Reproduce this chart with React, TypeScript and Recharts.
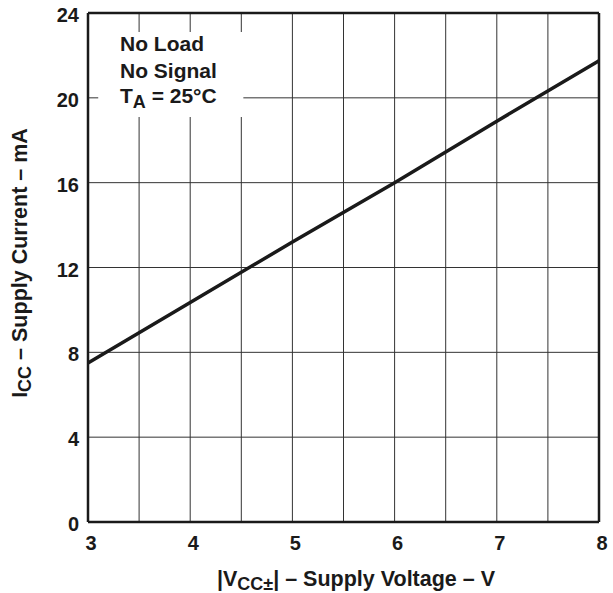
import { LineChart, Line, XAxis, YAxis, CartesianGrid, ReferenceArea, ReferenceLine, Customized } from "recharts"

// supply current vs. supply voltage
const supplyVoltage = [3, 4, 5, 6, 7, 8]
const supplyCurrent = [7.5, 10.35, 13.2, 16.0, 18.9, 21.75]

const voltageTicks = [3, 3.5, 4, 4.5, 5, 5.5, 6, 6.5, 7, 7.5, 8]
const currentTicks = [0, 4, 8, 12, 16, 20, 24]

const conditions = ["No Load", "No Signal"]

const FONT = "'Liberation Sans', Arial, Helvetica, sans-serif"
const INK = "#1a1a1a"

const data = supplyVoltage.map((v, i) => ({ v, icc: supplyCurrent[i] }))

// test conditions, drawn on top of the white box
function Conditions() {
  return (
    <g fontFamily={FONT} fontWeight="bold" fontSize={21} fill={INK}>
      <text x={120} y={51}>{conditions[0]}</text>
      <text x={120} y={78}>{conditions[1]}</text>
      <text x={120} y={103}>
        T
        <tspan fontSize={18} dy={5}>A</tspan>
        <tspan dy={-5}> = 25°C</tspan>
      </text>
    </g>
  )
}

function YLabel() {
  return (
    <text
      x={0}
      y={0}
      transform="translate(27 263) rotate(-90)"
      textAnchor="middle"
      fontFamily={FONT}
      fontWeight="bold"
      fontSize={21.5}
      fill={INK}
    >
      I
      <tspan fontSize={18} dy={4}>CC</tspan>
      <tspan dy={-4}> – Supply Current – mA</tspan>
    </text>
  )
}

function XLabel() {
  return (
    <text
      x={356}
      y={586}
      textAnchor="middle"
      fontFamily={FONT}
      fontWeight="bold"
      fontSize={21.5}
      fill={INK}
    >
      |V
      <tspan fontSize={18} dy={4}>CC±</tspan>
      <tspan dy={-4}>| – Supply Voltage – V</tspan>
    </text>
  )
}

export default function App() {
  return (
    <div style={{ position: "absolute", left: 0, top: 0, background: "#fff" }}>
      <LineChart
        width={613}
        height={593}
        data={data}
        margin={{ top: 13, right: 14, left: 30, bottom: 21 }}
      >
        <CartesianGrid stroke="#333" strokeWidth={1} />
        <XAxis
          dataKey="v"
          type="number"
          domain={[3, 8]}
          ticks={voltageTicks}
          tickFormatter={(v: number) => (Number.isInteger(v) ? String(v) : "")}
          height={50}
          tickSize={0}
          tickMargin={14}
          axisLine={{ stroke: INK, strokeWidth: 2.5 }}
          tickLine={false}
          tick={{ fill: INK, fontSize: 20, fontWeight: "bold", fontFamily: FONT, dx: 3 }}
        />
        <YAxis
          type="number"
          domain={[0, 24]}
          ticks={currentTicks}
          width={58}
          tickSize={0}
          tickMargin={9}
          axisLine={{ stroke: INK, strokeWidth: 2.5 }}
          tickLine={false}
          tick={{ fill: INK, fontSize: 20, fontWeight: "bold", fontFamily: FONT, dy: 2 }}
        />
        <ReferenceLine x={8} stroke={INK} strokeWidth={2.5} />
        <ReferenceLine y={24} stroke={INK} strokeWidth={2.5} />
        <ReferenceArea
          x1={3.1}
          x2={4.52}
          y1={19.1}
          y2={23.1}
          fill="#fff"
          fillOpacity={1}
          stroke="none"
          label={<Conditions />}
        />
        <Line
          dataKey="icc"
          type="linear"
          stroke={INK}
          strokeWidth={3.5}
          dot={false}
          isAnimationActive={false}
        />
        <Customized component={YLabel} />
        <Customized component={XLabel} />
      </LineChart>
    </div>
  )
}
